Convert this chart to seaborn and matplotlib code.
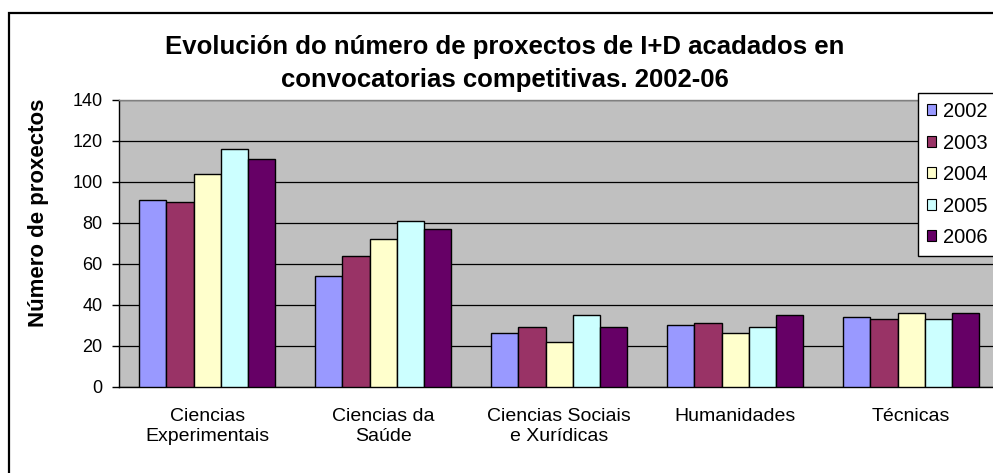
import numpy as np
import pandas as pd
import matplotlib.pyplot as plt
import matplotlib.patches as mpatches
import seaborn as sns

# Data
categories = ["Ciencias\nExperimentais", "Ciencias da\nSaúde", "Ciencias Sociais\ne Xurídicas",
              "Humanidades", "Técnicas"]
years = ["2002", "2003", "2004", "2005", "2006"]
v2002 = [91, 54, 26, 30, 34]
v2003 = [90, 64, 29, 31, 33]
v2004 = [104, 72, 22, 26, 36]
v2005 = [116, 81, 35, 29, 33]
v2006 = [111, 77, 29, 35, 36]
colors = ["#9999FF", "#993366", "#FFFFCC", "#CCFFFF", "#660066"]

series = [v2002, v2003, v2004, v2005, v2006]
rows = []
for year, vals in zip(years, series):
    for cat, v in zip(categories, vals):
        rows.append({"categoria": cat, "ano": year, "valor": v})
df = pd.DataFrame(rows)

sns.set_style("white")
plt.rcParams["font.family"] = ["Liberation Sans", "DejaVu Sans"]
plt.rcParams["text.color"] = "black"
plt.rcParams["axes.labelcolor"] = "black"
plt.rcParams["xtick.color"] = "black"
plt.rcParams["ytick.color"] = "black"

fig = plt.figure(figsize=(9.93, 4.73), dpi=100)
ax = fig.add_axes([119.3 / 993, 86.3 / 473, 880 / 993, 286.7 / 473])

sns.barplot(data=df, x="categoria", y="valor", hue="ano", order=categories,
            hue_order=years, palette=colors, width=0.773, edgecolor="black",
            linewidth=1.0, saturation=1, ax=ax, zorder=3)

ax.set_facecolor("#C0C0C0")
ax.set_xlim(-0.5, 4.5)
ax.set_ylim(0, 140)
ax.set_yticks(np.arange(0, 141, 20))
ax.yaxis.grid(True, color="black", linewidth=0.9, zorder=1)
ax.set_axisbelow(True)

ax.set_xticks(np.arange(5))
ax.set_xticklabels(categories, fontsize=14, linespacing=1.3)
ax.tick_params(axis="x", length=0, pad=15)
ax.set_xticks(np.arange(-0.5, 4.6, 1), minor=True)
ax.tick_params(axis="x", which="minor", length=5, direction="out", color="black", width=1)
ax.tick_params(axis="y", labelsize=13, length=5, direction="out", color="black",
               width=1, left=True, pad=7)

for s in ["top", "right"]:
    ax.spines[s].set_color("#808080")
    ax.spines[s].set_linewidth(1)
for s in ["left", "bottom"]:
    ax.spines[s].set_color("black")
    ax.spines[s].set_linewidth(1)

ax.set_xlabel("")
ax.set_ylabel("")
fig.text(39 / 993, 1 - 213 / 473, "Número de proxectos", rotation=90,
         ha="center", va="center", fontsize=16, fontweight="bold")

fig.text(505 / 993, 1 - 47 / 473, "Evolución do número de proxectos de I+D acadados en",
         ha="center", va="center", fontsize=18.5, fontweight="bold")
fig.text(505 / 993, 1 - 80 / 473, "convocatorias competitivas. 2002-06",
         ha="center", va="center", fontsize=18.5, fontweight="bold")

leg = ax.legend(loc="upper left", bbox_to_anchor=(918 / 993, 1 - 93 / 473),
                bbox_transform=fig.transFigure, frameon=True, fancybox=False,
                fontsize=14.5, handlelength=0.45, handleheight=0.45, handletextpad=0.35,
                labelspacing=0.62, borderpad=0.45, borderaxespad=0)
leg.get_frame().set_edgecolor("black")
leg.get_frame().set_linewidth(1)
leg.get_frame().set_facecolor("white")
leg.get_frame().set_alpha(1)
for h in leg.legend_handles:
    h.set_edgecolor("black")
    h.set_linewidth(0.8)

# Outer chart border
border = mpatches.Rectangle((9 / 993, -0.1), 1.2, 1 - 13 / 473 + 0.1,
                            transform=fig.transFigure, fill=False,
                            edgecolor="black", linewidth=1.6, zorder=10)
fig.patches.append(border)

fig.savefig("out.png", dpi=100)
